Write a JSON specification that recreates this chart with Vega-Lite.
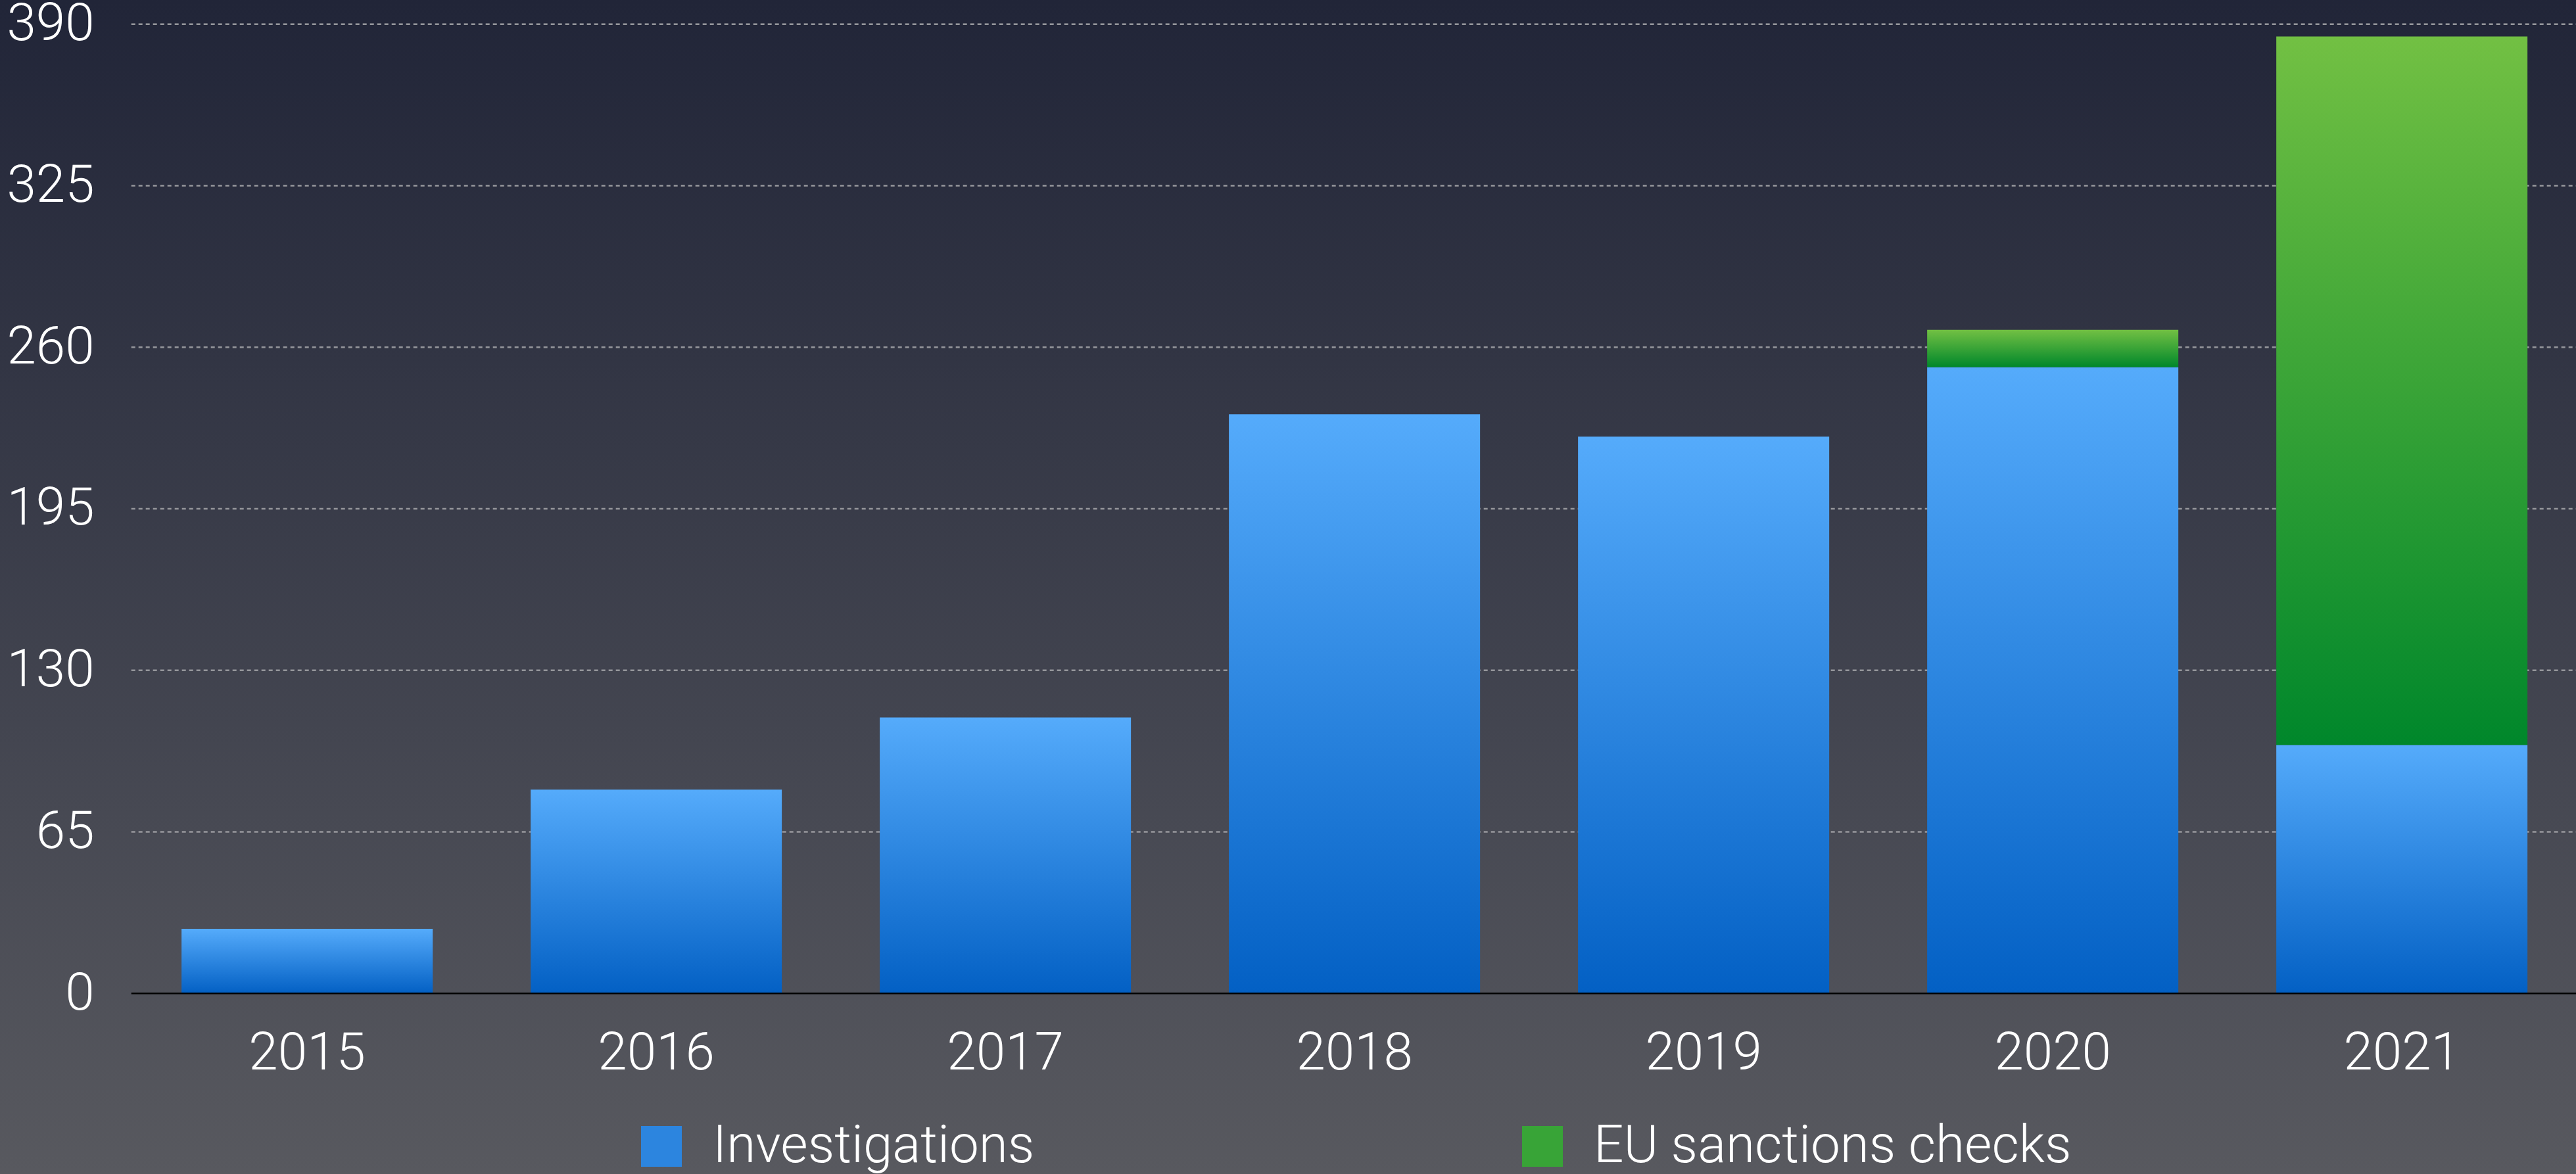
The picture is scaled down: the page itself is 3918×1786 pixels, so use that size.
{
  "$schema": "https://vega.github.io/schema/vega-lite/v6.json",
  "width": 3918,
  "height": 1786,
  "autosize": {"type": "none"},
  "padding": 0,
  "background": "#3a3d4c",
  "config": {
    "view": {"stroke": null},
    "font": "Roboto",
    "axis": {"labelFont": "Roboto", "labelFontWeight": 300, "labelColor": "#ffffff", "labelFontSize": 80, "domain": false, "ticks": false, "tickSize": 0, "grid": false, "title": null, "zindex": 2},
    "legend": {"labelFont": "Roboto", "labelFontWeight": 300}
  },
  "datasets": {
    "bars": [
      {"year": "2015", "series": "Investigations", "count": 26},
      {"year": "2016", "series": "Investigations", "count": 82},
      {"year": "2017", "series": "Investigations", "count": 111},
      {"year": "2018", "series": "Investigations", "count": 233},
      {"year": "2019", "series": "Investigations", "count": 224},
      {"year": "2020", "series": "Investigations", "count": 252},
      {"year": "2020", "series": "EU sanctions checks", "count": 15},
      {"year": "2021", "series": "Investigations", "count": 100},
      {"year": "2021", "series": "EU sanctions checks", "count": 285}
    ],
    "grid": [{"v": 65}, {"v": 130}, {"v": 195}, {"v": 260}, {"v": 325}, {"v": 390}],
    "base": [{"v": 0}]
  },
  "layer": [
    {
      "data": {"values": [{"panel": "background"}]},
      "mark": {"type": "rect", "strokeWidth": 0,
        "color": {"gradient": "linear", "x1": 0, "y1": 0, "x2": 0, "y2": 1,
          "stops": [{"offset": 0, "color": "#212538"}, {"offset": 1, "color": "#58595f"}]}},
      "encoding": {
        "y": {"datum": 399.7, "type": "quantitative"},
        "y2": {"datum": -72.65}
      }
    },
    {
      "data": {"name": "grid"},
      "mark": {"type": "rule", "color": "#96979c", "strokeWidth": 2.5, "strokeDash": [6, 5]},
      "encoding": {
        "y": {"field": "v", "type": "quantitative"},
        "x": {"datum": "2015", "type": "ordinal", "bandPosition": -0.2},
        "x2": {"datum": "2021", "bandPosition": 1.5}
      }
    },
    {
      "data": {"name": "bars"},
      "mark": {"type": "bar", "strokeWidth": 0},
      "encoding": {
        "x": {
          "field": "year", "type": "ordinal",
          "scale": {"domain": ["2015", "2016", "2017", "2018", "2019", "2020", "2021"], "paddingInner": 0.2806, "paddingOuter": 0.3295, "align": 0.789},
          "axis": {"orient": "bottom", "offset": -160, "labelPadding": 0, "labelBaseline": "alphabetic", "labelAngle": 0, "labelAlign": "center", "bandPosition": 0.5, "zindex": 2}
        },
        "y": {
          "field": "count", "type": "quantitative", "stack": "zero",
          "scale": {"domain": [-72.65, 399.7], "nice": false, "zero": false},
          "axis": {"orient": "left", "offset": -143, "labelPadding": 0, "values": [0, 65, 130, 195, 260, 325, 390], "labelAlign": "right", "labelBaseline": "middle", "labelFlush": false, "zindex": 2}
        },
        "detail": {"field": "series", "type": "nominal"},
        "order": {"field": "series", "sort": "descending"},
        "color": {
          "condition": {"test": "datum.series === 'Investigations'",
            "value": {"gradient": "linear", "x1": 0, "y1": 0, "x2": 0, "y2": 1, "stops": [{"offset": 0, "color": "#55abfb"}, {"offset": 1, "color": "#0360c4"}]}},
          "value": {"gradient": "linear", "x1": 0, "y1": 0, "x2": 0, "y2": 1, "stops": [{"offset": 0, "color": "#72c043"}, {"offset": 1, "color": "#00872b"}]}
        }
      }
    },
    {
      "data": {"name": "bars"},
      "mark": {"type": "square", "opacity": 0},
      "encoding": {
        "color": {
          "field": "series", "type": "nominal",
          "scale": {"domain": ["Investigations", "EU sanctions checks"], "range": ["#2c85df", "#38a437"]},
          "legend": {
            "orient": "none", "legendX": 966, "legendY": 1704, "direction": "horizontal",
            "title": null, "padding": 0, "symbolType": "square", "symbolSize": 3844, "symbolStrokeWidth": 0, "symbolOpacity": 1,
            "labelFontSize": 80, "labelColor": "#ffffff", "labelOffset": 38, "labelLimit": 2000, "columnPadding": 732
          }
        }
      }
    },
    {
      "data": {"name": "base"},
      "mark": {"type": "rule", "color": "#000000", "strokeWidth": 2.5},
      "encoding": {
        "y": {"field": "v", "type": "quantitative"},
        "x": {"datum": "2015", "type": "ordinal", "bandPosition": -0.2},
        "x2": {"datum": "2021", "bandPosition": 1.5}
      }
    }
  ]
}
